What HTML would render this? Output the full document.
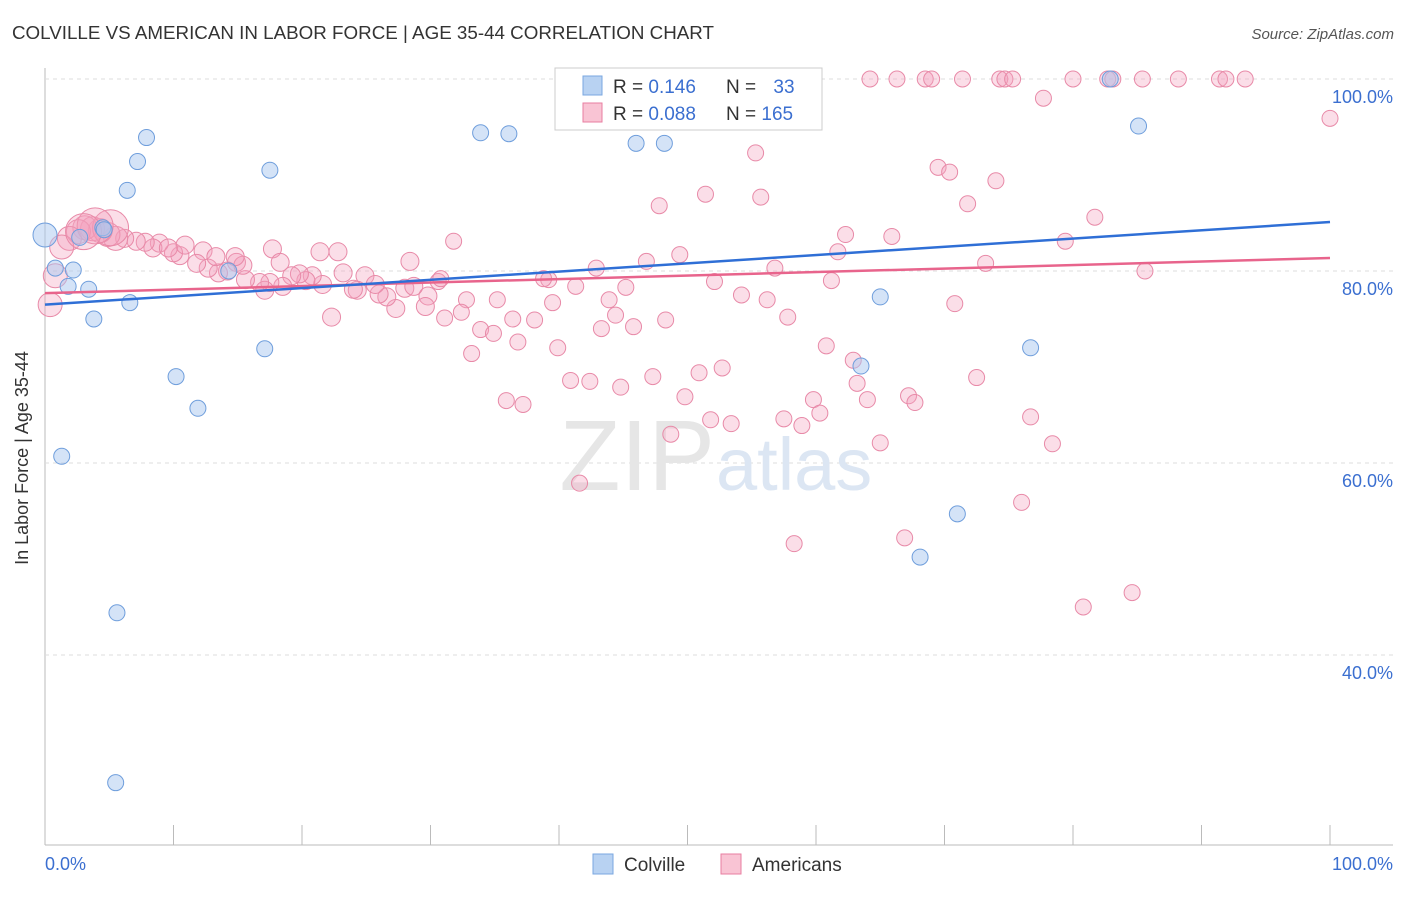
<!DOCTYPE html>
<html><head><meta charset="utf-8"><style>
body{margin:0;background:#fff;font-family:"Liberation Sans",sans-serif;}
svg text{font-family:"Liberation Sans",sans-serif;}
</style></head><body>
<svg width="1406" height="892" viewBox="0 0 1406 892" xmlns="http://www.w3.org/2000/svg">
<text x="12" y="39" font-size="18" fill="#333" textLength="702" lengthAdjust="spacingAndGlyphs">COLVILLE VS AMERICAN IN LABOR FORCE | AGE 35-44 CORRELATION CHART</text>
<text x="1394" y="39" font-size="15" fill="#555" font-style="italic" text-anchor="end">Source: ZipAtlas.com</text>
<g id="grid"></g>
<text x="715" y="490" font-size="100" fill="#e6e6e6" text-anchor="end" font-family="Liberation Serif">ZIP</text>
<text x="716" y="490" font-size="74" fill="#dce6f3">atlas</text>
<g id="pts"></g>
<g id="lines"></g>
<text x="28" y="458" font-size="18" fill="#333" text-anchor="middle" transform="rotate(-90 28 458)">In Labor Force | Age 35-44</text>
<g>
<rect x="555" y="68" width="267" height="62" fill="#fff" stroke="#ccc"/>
<rect x="583" y="76" width="19" height="19" fill="#b8d2f2" stroke="#7aa7e0"/>
<rect x="583" y="103" width="19" height="19" fill="#f9c4d4" stroke="#e87ea0"/>
<text x="613" y="93" font-size="19" fill="#333">R = <tspan fill="#3b6fd0">0.146</tspan></text>
<text x="726" y="93" font-size="19" fill="#333">N = <tspan fill="#3b6fd0" dx="12">33</tspan></text>
<text x="613" y="120" font-size="19" fill="#333">R = <tspan fill="#3b6fd0">0.088</tspan></text>
<text x="726" y="120" font-size="19" fill="#333">N = <tspan fill="#3b6fd0">165</tspan></text>
</g>
<g>
<rect x="593" y="854" width="20" height="20" fill="#b8d2f2" stroke="#7aa7e0"/>
<text x="624" y="871" font-size="19" fill="#333">Colville</text>
<rect x="721" y="854" width="20" height="20" fill="#f9c4d4" stroke="#e87ea0"/>
<text x="752" y="871" font-size="19" fill="#333">Americans</text>
</g>
</svg>
<script>
const yTicks=[100,80,60,40];
const xTickLabels=["0.0%","100.0%"];
const blueX=[0,0.8,2.2,1.8,3.4,3.8,2.7,4.5,1.3,5.6,5.5,7.9,7.2,6.4,6.6,10.2,11.9,14.3,17.1,17.5,33.9,36.1,40.7,46,48.2,65,63.5,71,68.1,76.7,82.9,85.1,4.6];
const blueY=[83.75,80.3,80.1,78.4,78.1,75,83.5,84.5,60.7,44.4,26.7,93.9,91.4,88.4,76.7,69,65.7,80,71.9,90.5,94.4,94.3,100,93.3,93.3,77.3,70.1,54.7,50.2,72,100,95.1,84.3];
const pinkPx=[[870,79],[897,79],[925,79],[932,79],[963,79],[1000,79],[1005,79],[1013,79],[1073,79],[1108,79],[1113,79],[1143,79],[1179,79],[1220,79],[1226,79],[1245,79],[1330,118],[1044,98],[756,153],[938,167],[950,172],[996,181],[705,194],[761,197],[659,206],[967,204],[1095,217],[846,235],[892,236],[1065,241],[453,241],[986,263],[1145,271],[838,252],[680,255],[647,261],[775,268],[715,282],[832,281],[955,304],[741,295],[767,300],[788,317],[826,346],[853,360],[857,383],[867,400],[908,396],[915,403],[880,443],[1030,417],[1052,444],[976,378],[1021,502],[905,538],[794,544],[1083,607],[1132,593],[722,368],[699,373],[653,377],[685,397],[710,420],[731,424],[784,419],[802,426],[813,400],[820,413],[671,434],[579,483],[506,401],[523,404],[570,380],[590,381],[621,387],[558,348],[518,342],[472,354],[480,330],[493,333],[601,329],[634,327],[666,320],[609,300],[615,315],[626,287],[596,268],[552,303],[549,280],[544,279],[576,286],[513,319],[535,320],[497,300],[467,300],[445,318],[461,312],[410,261],[438,282],[441,279],[428,296],[425,307],[396,308],[387,297],[379,294],[365,276],[357,290],[353,289],[343,273],[332,317],[322,284],[312,276],[306,281],[300,274],[292,276],[283,286],[270,283],[265,290],[259,283],[245,280],[237,262],[228,271],[219,273],[208,268],[203,251],[196,263],[180,256],[174,253],[160,243],[153,248],[145,242],[136,241],[125,238],[116,238],[108,235],[100,231],[92,229],[85,228],[78,232],[70,238],[62,247],[55,276],[50,305],[216,257],[243,265],[273,249],[280,262],[320,252],[338,252],[185,245],[168,248],[235,257],[375,284],[405,288],[414,286],[110,228],[95,226],[83,232]];
const pinkX=pinkPx.map(p=>+((p[0]-45)/12.85).toFixed(1));
const pinkY=pinkPx.map(p=>+((1039-p[1])/9.6).toFixed(1));
const pinkSize=pinkX.map((x,i)=>i>=pinkX.length-3?18:(x<6?12:(x<30?9:8)));
const blueTrend=[76.5,85.1];
const pinkTrend=[77.7,81.35];
const X=v=>45+v*12.85, Y=v=>1039-v*9.6;
const NS="http://www.w3.org/2000/svg";
function mk(tag,attrs,parent){const e=document.createElementNS(NS,tag);for(const k in attrs)e.setAttribute(k,attrs[k]);parent.appendChild(e);return e;}
const grid=document.getElementById('grid');
const ax=mk('line',{x1:45,y1:68,x2:45,y2:845,stroke:'#bbb'},grid);


const bx=mk('line',{x1:45,y1:845,x2:1393,y2:845,stroke:'#bbb'},grid);


yTicks.forEach(t=>{
 const l=mk('line',{x1:45,y1:Y(t),x2:1393,y2:Y(t),stroke:'#ddd','stroke-dasharray':'4,4'},grid);
 
 
 const tx=mk('text',{x:1393,y:Y(t)+24,'font-size':18,fill:'#3b6fd0','text-anchor':'end'},grid);
 tx.textContent=t.toFixed(1)+'%';
 
 
});
for(let i=0;i<=10;i++){
 const tk=mk('line',{x1:X(i*10),y1:825,x2:X(i*10),y2:845,stroke:'#bbb'},grid);
 
 
}
[[0,45,'start'],[1,1393,'end']].forEach(([i,x,a])=>{
 const tx=mk('text',{x:x,y:870,'font-size':18,fill:'#3b6fd0','text-anchor':a},grid);
 tx.textContent=xTickLabels[i];
 
 
});
const pts=document.getElementById('pts');
pinkX.forEach((x,i)=>{
 const c=mk('circle',{cx:X(x),cy:Y(pinkY[i]),r:pinkSize[i],fill:'rgba(244,160,188,0.35)',stroke:'#e88aa8','stroke-width':1},pts);
 
 
});
blueX.forEach((x,i)=>{
 const c=mk('circle',{cx:X(x),cy:Y(blueY[i]),r:i===0?12:8,fill:'rgba(170,200,240,0.5)',stroke:'#6f9edc','stroke-width':1},pts);
 
 
});
const lines=document.getElementById('lines');
const pl=mk('line',{x1:X(0),y1:Y(pinkTrend[0]),x2:X(100),y2:Y(pinkTrend[1]),stroke:'#e8648c','stroke-width':2.5},lines);


const bl=mk('line',{x1:X(0),y1:Y(blueTrend[0]),x2:X(100),y2:Y(blueTrend[1]),stroke:'#2f6fd6','stroke-width':2.5},lines);


</script>
</body></html>
